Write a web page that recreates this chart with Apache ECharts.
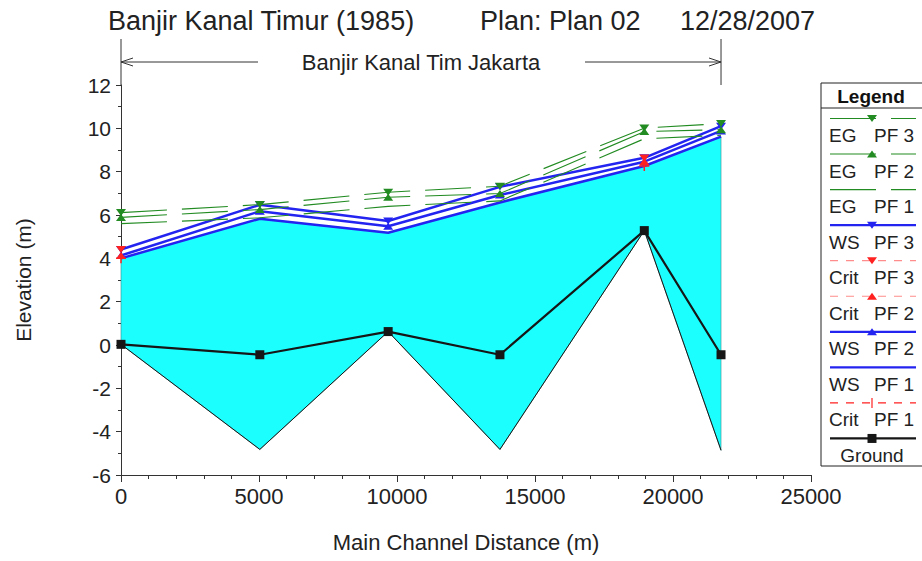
<!DOCTYPE html>
<html>
<head>
<meta charset="utf-8">
<script src="https://cdn.jsdelivr.net/npm/echarts@6.0.0/dist/echarts.min.js"></script>
<style>
html,body{margin:0;padding:0;background:#ffffff;}
#c{width:922px;height:561px;}
</style>
</head>
<body>
<div id="c"></div>
<script>
// ---------------- data ----------------
const stations      = [0, 5030, 9680, 13730, 18960, 21740];
const ground        = [0.03, -0.45, 0.62, -0.45, 5.28, -0.45];
const channelBottom = [0.03, -4.82, 0.62, -4.82, 5.28, -4.86];
const wsPF1 = [4.00, 5.83, 5.18, 6.58, 8.26, 9.62];
const wsPF2 = [4.13, 6.17, 5.48, 6.92, 8.46, 9.88];
const wsPF3 = [4.41, 6.47, 5.72, 7.30, 8.64, 10.10];
const egPF1 = [5.60, 5.87, 6.40, 6.65, 9.52, 9.68];
const egPF2 = [5.89, 6.25, 6.82, 6.99, 9.85, 9.94];
const egPF3 = [6.11, 6.48, 7.05, 7.33, 10.01, 10.22];
const critPF1 = [4.00, null, null, null, 8.26, null];
const critPF2 = [4.13, null, null, null, 8.47, null];
const critPF3 = [4.41, null, null, null, 8.63, null];
const xTickValues = [0, 5000, 10000, 15000, 20000, 25000];
const yTickValues = [-6, -4, -2, 0, 2, 4, 6, 8, 10, 12];
const titleParts = ['Banjir Kanal Timur (1985)', 'Plan: Plan 02', '12/28/2007'];
const reachName = 'Banjir Kanal Tim Jakarta';

// ---------------- styles ----------------
const FONT = '"Liberation Sans", Arial, Helvetica, sans-serif';
const GREEN = '#228b22', BLUE = '#2424f0', RED = '#ff2020', PINK = '#ff8c8c', BLACK = '#161616', CYAN = '#1cffff';
const AXIS = '#333333', TXT = '#222222';
const PLUS = 'path://M5,0L5,10M0,5L10,5';

const pair = (vals) => stations.map((x, i) => [x, vals[i] == null ? '-' : vals[i]]);

const seriesDefs = [
  {name: 'EG PF 3',   label: ['EG', 'PF 3'],   values: egPF3,   color: GREEN, lineColor: GREEN, width: 1.1, dash: [46, 15], symbol: 'triangle', rotate: 180, z: 6},
  {name: 'EG PF 2',   label: ['EG', 'PF 2'],   values: egPF2,   color: GREEN, lineColor: GREEN, width: 1.1, dash: [46, 15], symbol: 'triangle', rotate: 0,   z: 6},
  {name: 'EG PF 1',   label: ['EG', 'PF 1'],   values: egPF1,   color: GREEN, lineColor: GREEN, width: 1.1, dash: [46, 15], symbol: 'none',     rotate: 0,   z: 6},
  {name: 'WS PF 3',   label: ['WS', 'PF 3'],   values: wsPF3,   color: BLUE,  lineColor: BLUE,  width: 2.5, dash: 'solid',  symbol: 'triangle', rotate: 180, z: 4},
  {name: 'Crit PF 3', label: ['Crit', 'PF 3'], values: critPF3, color: RED,   lineColor: PINK,  width: 1.2, dash: [8, 8],   symbol: 'triangle', rotate: 180, z: 5},
  {name: 'Crit PF 2', label: ['Crit', 'PF 2'], values: critPF2, color: RED,   lineColor: PINK,  width: 1.2, dash: [8, 8],   symbol: 'triangle', rotate: 0,   z: 5},
  {name: 'WS PF 2',   label: ['WS', 'PF 2'],   values: wsPF2,   color: BLUE,  lineColor: BLUE,  width: 2.5, dash: 'solid',  symbol: 'triangle', rotate: 0,   z: 4},
  {name: 'WS PF 1',   label: ['WS', 'PF 1'],   values: wsPF1,   color: BLUE,  lineColor: BLUE,  width: 2.5, dash: 'solid',  symbol: 'none',     rotate: 0,   z: 4},
  {name: 'Crit PF 1', label: ['Crit', 'PF 1'], values: critPF1, color: RED,   lineColor: RED,   width: 1.2, dash: [8, 8],   symbol: PLUS,       rotate: 0,   z: 5},
  {name: 'Ground',    label: ['Ground'],       values: ground,  color: BLACK, lineColor: BLACK, width: 2.2, dash: 'solid',  symbol: 'rect',     rotate: 0,   z: 3}
];

function symbolSizeOf(d) {
  if (d.symbol === 'rect') return 9;
  if (d.symbol === PLUS) return 10;
  return [10, 7];
}

const series = [];
// channel fill (water between min channel elevation and WS PF 1)
series.push({
  type: 'custom', name: 'fill', coordinateSystem: 'cartesian2d', silent: true, z: 1,
  data: [[stations[0], wsPF1[0]]],
  renderItem: function (params, api) {
    const top = stations.map((x, i) => api.coord([x, wsPF1[i]]));
    const bot = stations.map((x, i) => api.coord([x, channelBottom[i]])).reverse();
    return {type: 'polygon', shape: {points: top.concat(bot)}, style: {fill: CYAN, stroke: '#3a8a8a', lineWidth: 0.6}};
  }
});
series.push({
  type: 'line', name: 'Min Ch El', data: pair(channelBottom), symbol: 'none', z: 2, silent: true,
  lineStyle: {color: BLACK, width: 1}
});
seriesDefs.forEach(d => {
  series.push({
    type: 'line', name: d.name, data: pair(d.values), z: d.z,
    connectNulls: false,
    symbol: d.symbol, symbolSize: symbolSizeOf(d), symbolRotate: d.rotate, showSymbol: d.symbol !== 'none',
    lineStyle: {color: d.lineColor, width: d.width, type: d.dash},
    itemStyle: d.symbol === PLUS ? {color: 'rgba(0,0,0,0)', borderColor: d.color, borderWidth: 1.5}
                                 : {color: d.color, borderWidth: 0},
    emphasis: {disabled: true}
  });
});

const chart = echarts.init(document.getElementById('c'), null, {renderer: 'svg', width: 922, height: 561});

const option = {
  animation: false,
  backgroundColor: '#ffffff',
  textStyle: {fontFamily: FONT},
  grid: {left: 121, right: 111, top: 85, bottom: 86, containLabel: false, outerBoundsMode: 'none'},
  xAxis: {
    type: 'value', min: xTickValues[0], max: xTickValues[xTickValues.length - 1],
    interval: xTickValues[1] - xTickValues[0],
    name: 'Main Channel Distance (m)', nameLocation: 'middle', nameGap: 56,
    nameTextStyle: {fontSize: 22, color: TXT, fontFamily: FONT},
    axisLine: {show: true, onZero: false, lineStyle: {color: AXIS, width: 1}},
    axisTick: {show: true, length: 7, lineStyle: {color: AXIS}},
    minorTick: {show: true, splitNumber: 5, length: 4, lineStyle: {color: AXIS}},
    splitLine: {show: false},
    axisLabel: {fontSize: 22, color: TXT, margin: 10, fontFamily: FONT, formatter: v => String(v)}
  },
  yAxis: {
    type: 'value', min: yTickValues[0], max: yTickValues[yTickValues.length - 1],
    interval: yTickValues[1] - yTickValues[0],
    name: 'Elevation (m)', nameLocation: 'middle', nameGap: 87, nameRotate: 90,
    nameTextStyle: {fontSize: 21, color: TXT, fontFamily: FONT},
    axisLine: {show: true, onZero: false, lineStyle: {color: AXIS, width: 1}},
    axisTick: {show: true, length: 5, lineStyle: {color: AXIS}},
    minorTick: {show: true, splitNumber: 2, length: 3, lineStyle: {color: AXIS}},
    splitLine: {show: false},
    axisLabel: {fontSize: 21, color: TXT, margin: 10, fontFamily: FONT, formatter: v => String(v)}
  },
  tooltip: {show: false},
  series: series
};
chart.setOption(option);

// ---------------- annotations & legend (graphic) ----------------
const g = [];
// title
const titleX = [108, 480, 680];
titleParts.forEach((t, i) => {
  g.push({type: 'text', x: titleX[i], y: 21, silent: true,
    style: {text: t, font: '27px ' + FONT, fill: TXT, align: 'left', verticalAlign: 'middle'}});
});

// reach annotation via axis scale
const yTop = yTickValues[yTickValues.length - 1];
const pL = chart.convertToPixel({gridIndex: 0}, [stations[0], yTop]);
const pR = chart.convertToPixel({gridIndex: 0}, [stations[stations.length - 1], yTop]);
const ay = 62, mid = (pL[0] + pR[0]) / 2;
const lineStyleA = {stroke: '#333', lineWidth: 1};
g.push({type: 'line', silent: true, shape: {x1: pL[0], y1: 39, x2: pL[0], y2: pL[1]}, style: lineStyleA});
g.push({type: 'line', silent: true, shape: {x1: pR[0], y1: 39, x2: pR[0], y2: pR[1]}, style: lineStyleA});
g.push({type: 'line', silent: true, shape: {x1: pL[0], y1: ay, x2: mid - 163, y2: ay}, style: lineStyleA});
g.push({type: 'line', silent: true, shape: {x1: mid + 164, y1: ay, x2: pR[0], y2: ay}, style: lineStyleA});
g.push({type: 'polyline', silent: true, shape: {points: [[pL[0] + 12, ay - 4], [pL[0], ay], [pL[0] + 12, ay + 4]]}, style: lineStyleA});
g.push({type: 'polyline', silent: true, shape: {points: [[pR[0] - 12, ay - 4], [pR[0], ay], [pR[0] - 12, ay + 4]]}, style: lineStyleA});
g.push({type: 'text', x: mid, y: ay, silent: true,
  style: {text: reachName, font: '22px ' + FONT, fill: TXT, align: 'center', verticalAlign: 'middle'}});

// legend box
const LX = 821, LY = 83, LW = 120, LH = 383;
g.push({type: 'rect', silent: true, shape: {x: LX, y: LY, width: LW, height: LH}, style: {fill: '#fff', stroke: '#222', lineWidth: 1}});
g.push({type: 'text', x: 871, y: 96, silent: true,
  style: {text: 'Legend', font: 'bold 19px ' + FONT, fill: '#111', align: 'center', verticalAlign: 'middle'}});
g.push({type: 'line', silent: true, shape: {x1: LX, y1: 108, x2: LX + LW, y2: 108}, style: {stroke: '#222', lineWidth: 1}});

seriesDefs.forEach((d, i) => {
  const ly = 118.5 + i * 35.55;
  const ty = ly + 17;
  const x1 = 830, x2 = 916, cx = 872;
  g.push({type: 'line', silent: true, shape: {x1: x1, y1: ly, x2: x2, y2: ly},
    style: {stroke: d.lineColor, lineWidth: Math.min(d.width, 2.2), lineDash: d.dash === 'solid' ? null : d.dash}});
  if (d.symbol === 'triangle') {
    const pts = d.rotate === 180 ? [[cx - 5, ly - 3.5], [cx + 5, ly - 3.5], [cx, ly + 3.5]]
                                 : [[cx - 5, ly + 3.5], [cx + 5, ly + 3.5], [cx, ly - 3.5]];
    g.push({type: 'polygon', silent: true, shape: {points: pts}, style: {fill: d.color}});
  } else if (d.symbol === 'rect') {
    g.push({type: 'rect', silent: true, shape: {x: cx - 4.5, y: ly - 4.5, width: 9, height: 9}, style: {fill: d.color}});
  } else if (d.symbol === PLUS) {
    g.push({type: 'line', silent: true, shape: {x1: cx, y1: ly - 5, x2: cx, y2: ly + 5}, style: {stroke: d.color, lineWidth: 1.2}});
  }
  if (d.label.length === 2) {
    g.push({type: 'text', x: 829, y: ty, silent: true,
      style: {text: d.label[0], font: '19px ' + FONT, fill: TXT, align: 'left', verticalAlign: 'middle'}});
    g.push({type: 'text', x: 874, y: ty, silent: true,
      style: {text: d.label[1], font: '19px ' + FONT, fill: TXT, align: 'left', verticalAlign: 'middle'}});
  } else {
    g.push({type: 'text', x: 872, y: ty, silent: true,
      style: {text: d.label[0], font: '19px ' + FONT, fill: TXT, align: 'center', verticalAlign: 'middle'}});
  }
});

chart.setOption({graphic: {elements: g}});
</script>
</body>
</html>
